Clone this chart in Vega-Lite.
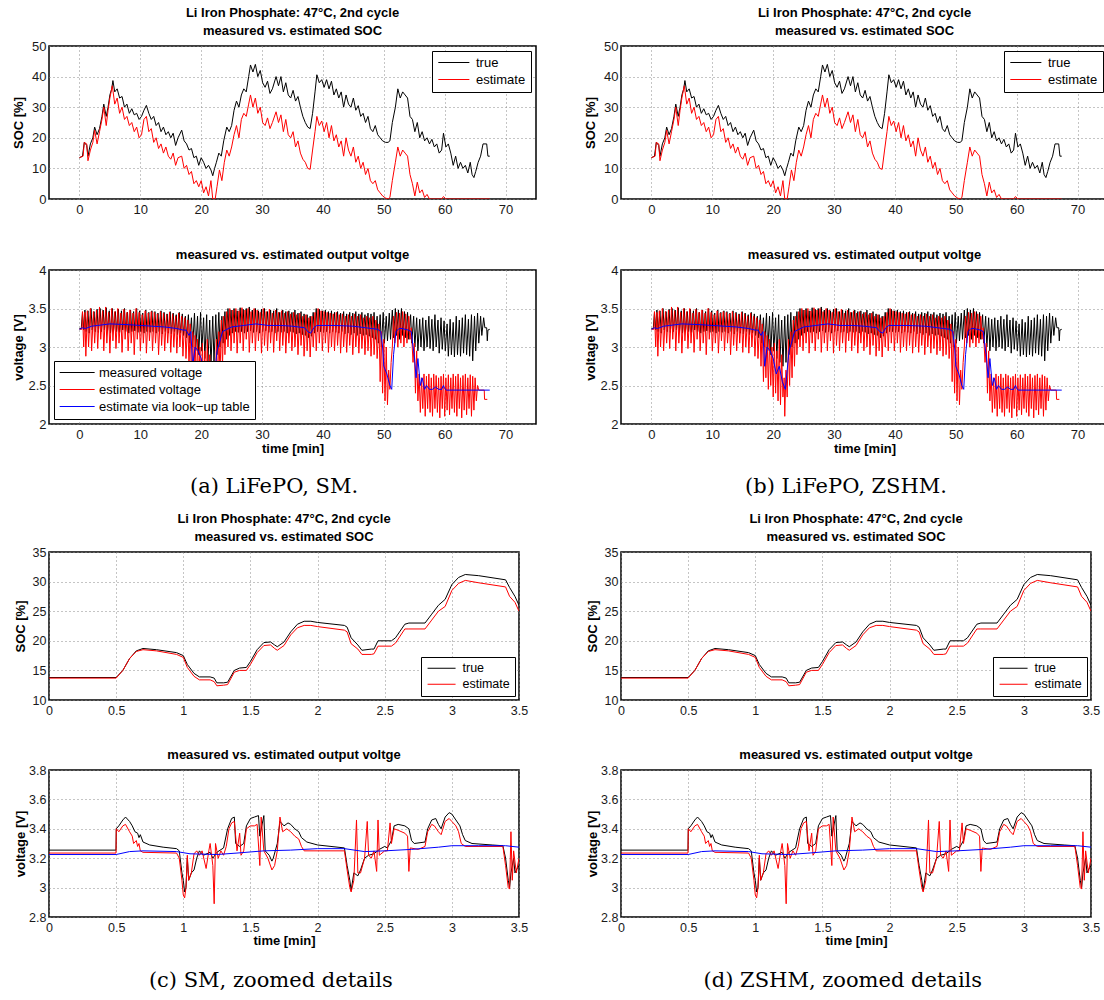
{
"$schema": "https://vega.github.io/schema/vega-lite/v6.json",
"background": "white",
"padding": {"left": 11, "top": 6, "right": 0, "bottom": 0},
"config": {
  "font": "Liberation Sans",
  "view": {"stroke": "black", "strokeWidth": 1.5},
  "axis": {"domain": false, "ticks": false, "grid": true, "gridColor": "#8a8a8a", "gridDash": [1, 3], "gridWidth": 1, "labelFont": "Liberation Sans", "labelColor": "#1a1a1a", "labelFontSize": 13, "titleFont": "Liberation Sans", "titleFontSize": 13, "titleFontWeight": "bold", "titleColor": "black", "labelFlush": false, "labelOverlap": false, "labelBound": false, "tickCount": 30},
  "axisX": {"labelPadding": 4, "titlePadding": 1, "labelOverlap": false, "tickCount": 30},
  "axisY": {"labelPadding": 3, "titlePadding": 5, "labelOverlap": false, "tickCount": 30},
  "title": {"font": "Liberation Sans", "fontSize": 13, "fontWeight": "bold", "color": "black", "anchor": "middle", "baseline": "bottom", "offset": 2, "lineHeight": 18}
},
"datasets": {
"socTrue": [{"t":0,"v":13.5},{"t":0.5,"v":14},{"t":0.8,"v":18.5},{"t":1.2,"v":17.5},{"t":1.4,"v":14},{"t":1.8,"v":18},{"t":2.2,"v":20},{"t":2.5,"v":23.5},{"t":2.9,"v":21},{"t":3.3,"v":23},{"t":3.7,"v":27},{"t":4.0,"v":31},{"t":4.4,"v":27},{"t":4.7,"v":30},{"t":5.0,"v":34},{"t":5.3,"v":36},{"t":5.5,"v":38.7},{"t":5.8,"v":35},{"t":6.2,"v":36},{"t":6.6,"v":33},{"t":7.0,"v":33.5},{"t":7.4,"v":30},{"t":7.8,"v":31},{"t":8.2,"v":28},{"t":8.6,"v":29.5},{"t":9.0,"v":27.5},{"t":9.4,"v":28},{"t":9.8,"v":26},{"t":10.2,"v":27},{"t":10.6,"v":29},{"t":11.0,"v":30.6},{"t":11.4,"v":28},{"t":11.8,"v":26},{"t":12.2,"v":27},{"t":12.6,"v":24},{"t":13.0,"v":25},{"t":13.4,"v":22},{"t":13.8,"v":23.5},{"t":14.2,"v":21},{"t":14.6,"v":22},{"t":15.0,"v":20},{"t":15.4,"v":21.5},{"t":15.8,"v":17.5},{"t":16.2,"v":20},{"t":16.8,"v":22.5},{"t":17.2,"v":19},{"t":17.6,"v":18},{"t":18.0,"v":16},{"t":18.4,"v":16.5},{"t":18.8,"v":13.5},{"t":19.2,"v":14},{"t":19.6,"v":11},{"t":20.0,"v":13.5},{"t":20.4,"v":12},{"t":20.8,"v":10},{"t":21.2,"v":11},{"t":21.6,"v":9.5},{"t":21.9,"v":7.6},{"t":22.2,"v":10},{"t":22.5,"v":12},{"t":22.9,"v":15},{"t":23.3,"v":14},{"t":23.7,"v":19},{"t":24.2,"v":23.5},{"t":24.6,"v":22},{"t":25.0,"v":24},{"t":25.4,"v":29},{"t":25.8,"v":32},{"t":26.2,"v":30},{"t":26.6,"v":34},{"t":27.0,"v":36},{"t":27.4,"v":35},{"t":27.8,"v":40},{"t":28.1,"v":43.8},{"t":28.5,"v":41.5},{"t":28.9,"v":44},{"t":29.3,"v":40},{"t":29.7,"v":42},{"t":30.1,"v":38},{"t":30.5,"v":36.5},{"t":30.9,"v":38.5},{"t":31.3,"v":34.5},{"t":31.7,"v":36},{"t":32.3,"v":40},{"t":32.7,"v":37},{"t":33.1,"v":40},{"t":33.5,"v":35},{"t":33.9,"v":38},{"t":34.3,"v":34},{"t":34.7,"v":33},{"t":35.1,"v":35.5},{"t":35.5,"v":32},{"t":35.9,"v":33.5},{"t":36.3,"v":30},{"t":36.7,"v":27},{"t":37.1,"v":25},{"t":37.5,"v":23.5},{"t":37.9,"v":23},{"t":38.3,"v":28},{"t":38.7,"v":35},{"t":39.0,"v":40.6},{"t":39.4,"v":38},{"t":39.8,"v":39},{"t":40.2,"v":36.5},{"t":40.6,"v":39},{"t":41.0,"v":36},{"t":41.4,"v":38.5},{"t":41.8,"v":34},{"t":42.2,"v":36},{"t":42.6,"v":33},{"t":43.0,"v":35},{"t":43.4,"v":30},{"t":43.8,"v":34},{"t":44.2,"v":31},{"t":44.6,"v":30},{"t":45.0,"v":33},{"t":45.4,"v":29},{"t":45.8,"v":30.5},{"t":46.2,"v":27},{"t":46.6,"v":28},{"t":47.0,"v":25},{"t":47.4,"v":27},{"t":47.8,"v":23},{"t":48.2,"v":22},{"t":48.6,"v":24},{"t":49.0,"v":21},{"t":49.4,"v":20},{"t":49.8,"v":19},{"t":50.3,"v":18.5},{"t":50.7,"v":18.5},{"t":51.0,"v":19},{"t":51.4,"v":25},{"t":51.9,"v":30},{"t":52.3,"v":36},{"t":52.7,"v":33},{"t":53.1,"v":35},{"t":53.5,"v":34},{"t":53.9,"v":33},{"t":54.3,"v":27},{"t":54.7,"v":26},{"t":55.1,"v":22},{"t":55.5,"v":25},{"t":55.9,"v":20},{"t":56.3,"v":22},{"t":56.7,"v":19},{"t":57.1,"v":20},{"t":57.5,"v":18},{"t":57.9,"v":19.5},{"t":58.3,"v":17},{"t":58.7,"v":18},{"t":59.1,"v":15},{"t":59.5,"v":16},{"t":59.8,"v":21.5},{"t":60.2,"v":17},{"t":60.6,"v":18},{"t":61.0,"v":15},{"t":61.4,"v":11},{"t":61.8,"v":14},{"t":62.2,"v":10},{"t":62.6,"v":12},{"t":63.0,"v":10},{"t":63.4,"v":11},{"t":63.8,"v":8.5},{"t":64.2,"v":12},{"t":64.5,"v":8},{"t":64.8,"v":7},{"t":65.1,"v":9},{"t":65.5,"v":12},{"t":65.9,"v":14},{"t":66.3,"v":18},{"t":66.9,"v":18},{"t":67.1,"v":14},{"t":67.4,"v":14}],
"socEst": [{"t":0,"v":13.5},{"t":0.6,"v":14},{"t":0.8,"v":18.5},{"t":1.2,"v":18},{"t":1.4,"v":12.5},{"t":1.8,"v":16},{"t":2.2,"v":18.5},{"t":2.5,"v":22.5},{"t":2.9,"v":18},{"t":3.3,"v":22},{"t":3.7,"v":26},{"t":4.0,"v":30},{"t":4.4,"v":24},{"t":4.7,"v":29},{"t":5.0,"v":33},{"t":5.4,"v":37},{"t":5.8,"v":31},{"t":6.2,"v":33},{"t":6.6,"v":28},{"t":7.0,"v":30},{"t":7.4,"v":26},{"t":7.8,"v":27},{"t":8.2,"v":24},{"t":8.6,"v":25},{"t":9.0,"v":22},{"t":9.4,"v":23.5},{"t":9.8,"v":20},{"t":10.2,"v":21},{"t":10.6,"v":26},{"t":11.0,"v":27},{"t":11.4,"v":22},{"t":11.8,"v":23},{"t":12.2,"v":18.5},{"t":12.6,"v":20},{"t":13.0,"v":16.5},{"t":13.4,"v":18},{"t":13.8,"v":15},{"t":14.2,"v":17},{"t":14.6,"v":14},{"t":15.0,"v":13},{"t":15.4,"v":15},{"t":15.8,"v":11},{"t":16.2,"v":13.5},{"t":16.8,"v":14},{"t":17.2,"v":10},{"t":17.6,"v":11},{"t":18.0,"v":8},{"t":18.4,"v":9},{"t":18.8,"v":5},{"t":19.2,"v":6},{"t":19.6,"v":4},{"t":20.0,"v":6},{"t":20.4,"v":2},{"t":20.8,"v":4},{"t":21.2,"v":1},{"t":21.6,"v":6},{"t":21.9,"v":0},{"t":22.3,"v":0},{"t":22.6,"v":4},{"t":23.0,"v":9.5},{"t":23.4,"v":6},{"t":23.8,"v":12},{"t":24.2,"v":16},{"t":24.6,"v":14},{"t":25.0,"v":17},{"t":25.4,"v":21},{"t":25.8,"v":24},{"t":26.2,"v":20},{"t":26.6,"v":26},{"t":27.0,"v":28},{"t":27.4,"v":27},{"t":27.8,"v":31},{"t":28.1,"v":34},{"t":28.5,"v":30},{"t":28.9,"v":33},{"t":29.3,"v":28},{"t":29.7,"v":30},{"t":30.1,"v":25},{"t":30.5,"v":24},{"t":30.9,"v":26.5},{"t":31.3,"v":23},{"t":31.7,"v":25},{"t":32.3,"v":28.5},{"t":32.7,"v":25},{"t":33.1,"v":27.5},{"t":33.5,"v":22},{"t":33.9,"v":26},{"t":34.3,"v":21},{"t":34.7,"v":20},{"t":35.1,"v":22},{"t":35.5,"v":17},{"t":35.9,"v":19},{"t":36.3,"v":15},{"t":36.7,"v":13},{"t":37.1,"v":12},{"t":37.5,"v":10},{"t":37.9,"v":9.7},{"t":38.3,"v":16},{"t":38.7,"v":22},{"t":39.0,"v":27},{"t":39.4,"v":24},{"t":39.8,"v":25.5},{"t":40.2,"v":22},{"t":40.6,"v":25},{"t":41.0,"v":20},{"t":41.4,"v":24},{"t":41.8,"v":19},{"t":42.2,"v":21},{"t":42.6,"v":17},{"t":43.0,"v":19},{"t":43.4,"v":14},{"t":43.8,"v":20},{"t":44.2,"v":16},{"t":44.6,"v":14},{"t":45.0,"v":17},{"t":45.4,"v":12},{"t":45.8,"v":14},{"t":46.2,"v":10},{"t":46.6,"v":12},{"t":47.0,"v":8},{"t":47.4,"v":10},{"t":47.8,"v":6},{"t":48.2,"v":5},{"t":48.6,"v":6},{"t":49.0,"v":3},{"t":49.4,"v":2},{"t":49.8,"v":1},{"t":50.3,"v":0.3},{"t":50.7,"v":0},{"t":51.0,"v":0.5},{"t":51.4,"v":6},{"t":51.9,"v":12},{"t":52.3,"v":17},{"t":52.7,"v":14},{"t":53.1,"v":16},{"t":53.5,"v":15},{"t":53.9,"v":14},{"t":54.3,"v":8},{"t":54.7,"v":5},{"t":55.1,"v":1},{"t":55.5,"v":5.5},{"t":55.9,"v":2},{"t":56.3,"v":3},{"t":56.7,"v":0.5},{"t":57.1,"v":1.5},{"t":57.5,"v":0},{"t":59.5,"v":0},{"t":59.8,"v":0.8},{"t":60.2,"v":0},{"t":67.4,"v":0}],
"vMeas": [{"t":0,"v":3.24},{"t":0.3,"v":3.24},{"t":0.5,"v":3.45},{"t":0.7,"v":3.22},{"t":0.9,"v":3.48},{"t":1.1,"v":3.2},{"t":1.4,"v":3.47},{"t":1.6,"v":3.18},{"t":1.9,"v":3.5},{"t":2.1,"v":3.22},{"t":2.4,"v":3.46},{"t":2.6,"v":3.2},{"t":2.9,"v":3.49},{"t":3.1,"v":3.19},{"t":3.4,"v":3.5},{"t":3.6,"v":3.2},{"t":3.9,"v":3.48},{"t":4.1,"v":3.22},{"t":4.4,"v":3.51},{"t":4.6,"v":3.2},{"t":4.9,"v":3.47},{"t":5.1,"v":3.18},{"t":5.4,"v":3.5},{"t":5.6,"v":3.21},{"t":5.9,"v":3.46},{"t":6.1,"v":3.2},{"t":6.4,"v":3.49},{"t":6.6,"v":3.19},{"t":6.9,"v":3.47},{"t":7.1,"v":3.22},{"t":7.4,"v":3.5},{"t":7.6,"v":3.2},{"t":7.9,"v":3.45},{"t":8.1,"v":3.18},{"t":8.4,"v":3.48},{"t":8.6,"v":3.2},{"t":8.9,"v":3.46},{"t":9.1,"v":3.21},{"t":9.4,"v":3.5},{"t":9.6,"v":3.19},{"t":9.9,"v":3.47},{"t":10.1,"v":3.2},{"t":10.4,"v":3.44},{"t":10.6,"v":3.18},{"t":10.9,"v":3.48},{"t":11.1,"v":3.2},{"t":11.4,"v":3.45},{"t":11.6,"v":3.19},{"t":11.9,"v":3.47},{"t":12.1,"v":3.2},{"t":12.4,"v":3.46},{"t":12.6,"v":3.18},{"t":12.9,"v":3.44},{"t":13.1,"v":3.2},{"t":13.4,"v":3.47},{"t":13.6,"v":3.17},{"t":13.9,"v":3.45},{"t":14.1,"v":3.2},{"t":14.4,"v":3.43},{"t":14.6,"v":3.18},{"t":14.9,"v":3.46},{"t":15.1,"v":3.17},{"t":15.4,"v":3.44},{"t":15.6,"v":3.2},{"t":15.9,"v":3.42},{"t":16.1,"v":3.16},{"t":16.4,"v":3.45},{"t":16.6,"v":3.18},{"t":16.9,"v":3.43},{"t":17.1,"v":3.15},{"t":17.4,"v":3.4},{"t":17.6,"v":3.12},{"t":17.9,"v":3.42},{"t":18.1,"v":3.05},{"t":18.4,"v":3.38},{"t":18.6,"v":3.0},{"t":18.9,"v":3.44},{"t":19.1,"v":2.95},{"t":19.4,"v":3.4},{"t":19.6,"v":2.9},{"t":19.9,"v":3.45},{"t":20.1,"v":2.95},{"t":20.4,"v":3.38},{"t":20.6,"v":2.85},{"t":20.9,"v":3.42},{"t":21.1,"v":2.8},{"t":21.4,"v":3.35},{"t":21.6,"v":2.75},{"t":21.9,"v":3.4},{"t":22.1,"v":2.8},{"t":22.4,"v":3.42},{"t":22.6,"v":2.9},{"t":22.9,"v":3.45},{"t":23.1,"v":3.0},{"t":23.4,"v":3.4},{"t":23.6,"v":3.05},{"t":23.9,"v":3.46},{"t":24.1,"v":3.1},{"t":24.4,"v":3.5},{"t":24.6,"v":3.15},{"t":24.9,"v":3.48},{"t":25.1,"v":3.18},{"t":25.4,"v":3.5},{"t":25.6,"v":3.2},{"t":25.9,"v":3.47},{"t":26.1,"v":3.19},{"t":26.4,"v":3.51},{"t":26.6,"v":3.2},{"t":26.9,"v":3.49},{"t":27.1,"v":3.18},{"t":27.4,"v":3.5},{"t":27.6,"v":3.2},{"t":27.9,"v":3.52},{"t":28.1,"v":3.21},{"t":28.4,"v":3.48},{"t":28.6,"v":3.19},{"t":28.9,"v":3.5},{"t":29.1,"v":3.2},{"t":29.4,"v":3.47},{"t":29.6,"v":3.18},{"t":29.9,"v":3.49},{"t":30.1,"v":3.2},{"t":30.4,"v":3.5},{"t":30.6,"v":3.21},{"t":30.9,"v":3.46},{"t":31.1,"v":3.19},{"t":31.4,"v":3.48},{"t":31.6,"v":3.2},{"t":31.9,"v":3.47},{"t":32.1,"v":3.18},{"t":32.4,"v":3.5},{"t":32.6,"v":3.2},{"t":32.9,"v":3.45},{"t":33.1,"v":3.19},{"t":33.4,"v":3.48},{"t":33.6,"v":3.2},{"t":33.9,"v":3.46},{"t":34.1,"v":3.18},{"t":34.4,"v":3.47},{"t":34.6,"v":3.2},{"t":34.9,"v":3.45},{"t":35.1,"v":3.19},{"t":35.4,"v":3.48},{"t":35.6,"v":3.17},{"t":35.9,"v":3.44},{"t":36.1,"v":3.18},{"t":36.4,"v":3.46},{"t":36.6,"v":3.16},{"t":36.9,"v":3.43},{"t":37.1,"v":3.15},{"t":37.4,"v":3.42},{"t":37.6,"v":3.12},{"t":37.9,"v":3.4},{"t":38.1,"v":3.14},{"t":38.4,"v":3.45},{"t":38.6,"v":3.18},{"t":38.9,"v":3.5},{"t":39.1,"v":3.2},{"t":39.4,"v":3.49},{"t":39.6,"v":3.2},{"t":39.9,"v":3.47},{"t":40.1,"v":3.19},{"t":40.4,"v":3.48},{"t":40.6,"v":3.2},{"t":40.9,"v":3.46},{"t":41.1,"v":3.18},{"t":41.4,"v":3.47},{"t":41.6,"v":3.2},{"t":41.9,"v":3.45},{"t":42.1,"v":3.19},{"t":42.4,"v":3.46},{"t":42.6,"v":3.18},{"t":42.9,"v":3.44},{"t":43.1,"v":3.2},{"t":43.4,"v":3.46},{"t":43.6,"v":3.17},{"t":43.9,"v":3.43},{"t":44.1,"v":3.18},{"t":44.4,"v":3.45},{"t":44.6,"v":3.16},{"t":44.9,"v":3.44},{"t":45.1,"v":3.18},{"t":45.4,"v":3.46},{"t":45.6,"v":3.15},{"t":45.9,"v":3.43},{"t":46.1,"v":3.17},{"t":46.4,"v":3.45},{"t":46.6,"v":3.15},{"t":46.9,"v":3.42},{"t":47.1,"v":3.16},{"t":47.4,"v":3.44},{"t":47.6,"v":3.14},{"t":47.9,"v":3.43},{"t":48.1,"v":3.12},{"t":48.4,"v":3.45},{"t":48.6,"v":3.1},{"t":48.9,"v":3.4},{"t":49.1,"v":3.05},{"t":49.4,"v":3.42},{"t":49.6,"v":3.0},{"t":49.9,"v":3.45},{"t":50.1,"v":3.05},{"t":50.4,"v":3.4},{"t":50.6,"v":3.08},{"t":50.9,"v":3.44},{"t":51.1,"v":3.1},{"t":51.4,"v":3.48},{"t":51.6,"v":3.12},{"t":51.9,"v":3.5},{"t":52.1,"v":3.15},{"t":52.4,"v":3.48},{"t":52.6,"v":3.1},{"t":52.9,"v":3.5},{"t":53.1,"v":3.15},{"t":53.4,"v":3.46},{"t":53.6,"v":3.12},{"t":53.9,"v":3.45},{"t":54.1,"v":3.1},{"t":54.4,"v":3.42},{"t":54.6,"v":3.05},{"t":54.9,"v":3.4},{"t":55.1,"v":3.0},{"t":55.4,"v":3.38},{"t":55.6,"v":2.95},{"t":55.9,"v":3.36},{"t":56.1,"v":3.0},{"t":56.4,"v":3.38},{"t":56.6,"v":2.95},{"t":56.9,"v":3.35},{"t":57.1,"v":3.0},{"t":57.4,"v":3.4},{"t":57.6,"v":2.98},{"t":57.9,"v":3.36},{"t":58.1,"v":2.95},{"t":58.4,"v":3.42},{"t":58.6,"v":3.0},{"t":58.9,"v":3.35},{"t":59.1,"v":2.92},{"t":59.4,"v":3.38},{"t":59.6,"v":2.97},{"t":59.9,"v":3.34},{"t":60.1,"v":2.95},{"t":60.4,"v":3.3},{"t":60.6,"v":2.88},{"t":60.9,"v":3.36},{"t":61.1,"v":2.9},{"t":61.4,"v":3.32},{"t":61.6,"v":2.87},{"t":61.9,"v":3.4},{"t":62.1,"v":2.9},{"t":62.4,"v":3.35},{"t":62.6,"v":2.88},{"t":62.9,"v":3.38},{"t":63.1,"v":2.92},{"t":63.4,"v":3.42},{"t":63.6,"v":2.9},{"t":63.9,"v":3.36},{"t":64.1,"v":2.88},{"t":64.4,"v":3.42},{"t":64.6,"v":2.82},{"t":64.9,"v":3.4},{"t":65.1,"v":2.95},{"t":65.4,"v":3.44},{"t":65.6,"v":3.05},{"t":65.9,"v":3.4},{"t":66.1,"v":3.15},{"t":66.4,"v":3.38},{"t":66.6,"v":3.25},{"t":66.9,"v":3.25},{"t":67.0,"v":3.08},{"t":67.1,"v":3.22},{"t":67.4,"v":3.23}],
"vEst": [{"t":0,"v":3.23},{"t":0.4,"v":3.23},{"t":0.5,"v":3.46},{"t":0.7,"v":3.0},{"t":0.9,"v":3.45},{"t":1.05,"v":2.88},{"t":1.3,"v":3.47},{"t":1.5,"v":3.0},{"t":1.8,"v":3.5},{"t":2.0,"v":2.95},{"t":2.3,"v":3.46},{"t":2.5,"v":3.05},{"t":2.8,"v":3.48},{"t":3.0,"v":2.98},{"t":3.3,"v":3.52},{"t":3.5,"v":3.1},{"t":3.8,"v":3.47},{"t":4.0,"v":2.95},{"t":4.3,"v":3.52},{"t":4.5,"v":3.05},{"t":4.8,"v":3.45},{"t":5.0,"v":2.92},{"t":5.3,"v":3.5},{"t":5.5,"v":3.08},{"t":5.8,"v":3.46},{"t":6.0,"v":2.98},{"t":6.3,"v":3.5},{"t":6.5,"v":3.05},{"t":6.8,"v":3.44},{"t":7.0,"v":2.93},{"t":7.3,"v":3.49},{"t":7.5,"v":3.1},{"t":7.8,"v":3.45},{"t":8.0,"v":2.95},{"t":8.3,"v":3.48},{"t":8.5,"v":3.05},{"t":8.8,"v":3.44},{"t":9.0,"v":2.9},{"t":9.3,"v":3.5},{"t":9.5,"v":3.1},{"t":9.8,"v":3.45},{"t":10.0,"v":2.95},{"t":10.3,"v":3.42},{"t":10.5,"v":3.05},{"t":10.8,"v":3.47},{"t":11.0,"v":2.92},{"t":11.3,"v":3.44},{"t":11.5,"v":3.08},{"t":11.8,"v":3.46},{"t":12.0,"v":2.95},{"t":12.3,"v":3.45},{"t":12.5,"v":3.05},{"t":12.8,"v":3.43},{"t":13.0,"v":2.9},{"t":13.3,"v":3.46},{"t":13.5,"v":3.02},{"t":13.8,"v":3.44},{"t":14.0,"v":2.95},{"t":14.3,"v":3.42},{"t":14.5,"v":3.05},{"t":14.8,"v":3.45},{"t":15.0,"v":2.93},{"t":15.3,"v":3.43},{"t":15.5,"v":3.0},{"t":15.8,"v":3.4},{"t":16.0,"v":2.92},{"t":16.3,"v":3.44},{"t":16.5,"v":3.0},{"t":16.8,"v":3.4},{"t":17.0,"v":2.88},{"t":17.3,"v":3.38},{"t":17.5,"v":2.85},{"t":17.8,"v":3.35},{"t":18.0,"v":2.75},{"t":18.2,"v":3.3},{"t":18.4,"v":2.55},{"t":18.6,"v":3.2},{"t":18.8,"v":2.6},{"t":19.0,"v":3.15},{"t":19.2,"v":2.45},{"t":19.4,"v":3.1},{"t":19.6,"v":2.5},{"t":19.8,"v":3.0},{"t":20.0,"v":2.35},{"t":20.2,"v":3.05},{"t":20.4,"v":2.4},{"t":20.6,"v":2.95},{"t":20.8,"v":2.3},{"t":21.0,"v":3.1},{"t":21.2,"v":2.25},{"t":21.4,"v":2.9},{"t":21.6,"v":2.35},{"t":21.8,"v":2.6},{"t":21.9,"v":2.1},{"t":22.1,"v":2.7},{"t":22.3,"v":2.35},{"t":22.5,"v":3.1},{"t":22.7,"v":2.5},{"t":22.9,"v":3.2},{"t":23.1,"v":2.6},{"t":23.3,"v":3.35},{"t":23.5,"v":2.75},{"t":23.7,"v":3.4},{"t":23.9,"v":2.9},{"t":24.2,"v":3.46},{"t":24.4,"v":3.0},{"t":24.7,"v":3.5},{"t":24.9,"v":2.95},{"t":25.2,"v":3.48},{"t":25.4,"v":3.05},{"t":25.7,"v":3.5},{"t":25.9,"v":2.92},{"t":26.2,"v":3.47},{"t":26.4,"v":3.05},{"t":26.7,"v":3.51},{"t":26.9,"v":2.95},{"t":27.2,"v":3.48},{"t":27.4,"v":3.1},{"t":27.7,"v":3.5},{"t":27.9,"v":2.93},{"t":28.2,"v":3.46},{"t":28.4,"v":3.05},{"t":28.7,"v":3.5},{"t":28.9,"v":2.95},{"t":29.2,"v":3.48},{"t":29.4,"v":3.08},{"t":29.7,"v":3.45},{"t":29.9,"v":2.92},{"t":30.2,"v":3.5},{"t":30.4,"v":3.02},{"t":30.7,"v":3.46},{"t":30.9,"v":2.95},{"t":31.2,"v":3.49},{"t":31.4,"v":3.05},{"t":31.7,"v":3.44},{"t":31.9,"v":2.93},{"t":32.2,"v":3.48},{"t":32.4,"v":3.08},{"t":32.7,"v":3.45},{"t":32.9,"v":2.95},{"t":33.2,"v":3.47},{"t":33.4,"v":3.02},{"t":33.7,"v":3.44},{"t":33.9,"v":2.92},{"t":34.2,"v":3.46},{"t":34.4,"v":3.05},{"t":34.7,"v":3.43},{"t":34.9,"v":2.95},{"t":35.2,"v":3.45},{"t":35.4,"v":3.0},{"t":35.7,"v":3.42},{"t":35.9,"v":2.9},{"t":36.2,"v":3.44},{"t":36.4,"v":3.02},{"t":36.7,"v":3.4},{"t":36.9,"v":2.88},{"t":37.2,"v":3.42},{"t":37.4,"v":2.95},{"t":37.7,"v":3.38},{"t":37.9,"v":2.87},{"t":38.2,"v":3.4},{"t":38.4,"v":3.0},{"t":38.7,"v":3.45},{"t":38.9,"v":2.95},{"t":39.2,"v":3.5},{"t":39.4,"v":3.05},{"t":39.7,"v":3.47},{"t":39.9,"v":2.95},{"t":40.2,"v":3.46},{"t":40.4,"v":3.05},{"t":40.7,"v":3.45},{"t":40.9,"v":2.93},{"t":41.2,"v":3.44},{"t":41.4,"v":3.0},{"t":41.7,"v":3.43},{"t":41.9,"v":2.95},{"t":42.2,"v":3.45},{"t":42.4,"v":3.02},{"t":42.7,"v":3.42},{"t":42.9,"v":2.92},{"t":43.2,"v":3.43},{"t":43.4,"v":3.0},{"t":43.7,"v":3.4},{"t":43.9,"v":2.93},{"t":44.2,"v":3.42},{"t":44.4,"v":3.02},{"t":44.7,"v":3.4},{"t":44.9,"v":2.9},{"t":45.2,"v":3.43},{"t":45.4,"v":3.0},{"t":45.7,"v":3.4},{"t":45.9,"v":2.92},{"t":46.2,"v":3.42},{"t":46.4,"v":2.98},{"t":46.7,"v":3.38},{"t":46.9,"v":2.9},{"t":47.2,"v":3.4},{"t":47.4,"v":2.95},{"t":47.7,"v":3.38},{"t":47.9,"v":2.88},{"t":48.2,"v":3.4},{"t":48.4,"v":2.9},{"t":48.7,"v":3.35},{"t":48.9,"v":2.85},{"t":49.2,"v":3.3},{"t":49.4,"v":2.55},{"t":49.6,"v":3.2},{"t":49.8,"v":2.4},{"t":50.0,"v":3.1},{"t":50.2,"v":2.3},{"t":50.4,"v":3.0},{"t":50.6,"v":2.25},{"t":50.8,"v":2.7},{"t":51.0,"v":2.45},{"t":51.2,"v":2.8},{"t":51.4,"v":3.0},{"t":51.6,"v":3.4},{"t":51.8,"v":3.05},{"t":52.1,"v":3.45},{"t":52.3,"v":3.0},{"t":52.6,"v":3.44},{"t":52.8,"v":3.05},{"t":53.1,"v":3.46},{"t":53.3,"v":3.0},{"t":53.6,"v":3.43},{"t":53.8,"v":3.05},{"t":54.1,"v":3.4},{"t":54.3,"v":3.1},{"t":54.5,"v":3.25},{"t":54.8,"v":2.8},{"t":55.0,"v":3.05},{"t":55.2,"v":2.4},{"t":55.4,"v":2.95},{"t":55.6,"v":2.3},{"t":55.8,"v":2.65},{"t":56.0,"v":2.15},{"t":56.2,"v":2.6},{"t":56.4,"v":2.2},{"t":56.6,"v":2.65},{"t":56.8,"v":2.1},{"t":57.0,"v":2.62},{"t":57.2,"v":2.2},{"t":57.4,"v":2.65},{"t":57.6,"v":2.15},{"t":57.8,"v":2.6},{"t":58.0,"v":2.1},{"t":58.2,"v":2.65},{"t":58.4,"v":2.2},{"t":58.6,"v":2.63},{"t":58.8,"v":2.15},{"t":59.0,"v":2.6},{"t":59.2,"v":2.08},{"t":59.4,"v":2.62},{"t":59.6,"v":2.2},{"t":59.8,"v":2.65},{"t":60.0,"v":2.1},{"t":60.2,"v":2.6},{"t":60.4,"v":2.18},{"t":60.6,"v":2.64},{"t":60.8,"v":2.12},{"t":61.0,"v":2.6},{"t":61.2,"v":2.2},{"t":61.4,"v":2.65},{"t":61.6,"v":2.15},{"t":61.8,"v":2.62},{"t":62.0,"v":2.1},{"t":62.2,"v":2.65},{"t":62.4,"v":2.2},{"t":62.6,"v":2.6},{"t":62.8,"v":2.08},{"t":63.0,"v":2.63},{"t":63.2,"v":2.18},{"t":63.4,"v":2.65},{"t":63.6,"v":2.12},{"t":63.8,"v":2.6},{"t":64.0,"v":2.2},{"t":64.2,"v":2.64},{"t":64.4,"v":2.1},{"t":64.6,"v":2.62},{"t":64.8,"v":2.18},{"t":65.0,"v":2.6},{"t":65.2,"v":2.3},{"t":65.4,"v":2.5},{"t":65.6,"v":2.44},{"t":66.5,"v":2.44},{"t":66.55,"v":2.32},{"t":67.0,"v":2.32}],
"vLut": [{"t":0,"v":3.23},{"t":0.5,"v":3.25},{"t":1,"v":3.24},{"t":2,"v":3.27},{"t":3,"v":3.28},{"t":5,"v":3.3},{"t":8,"v":3.29},{"t":10,"v":3.28},{"t":12,"v":3.27},{"t":14,"v":3.26},{"t":16,"v":3.24},{"t":17,"v":3.22},{"t":17.5,"v":3.22},{"t":18,"v":3.15},{"t":18.3,"v":3.2},{"t":18.6,"v":2.75},{"t":19,"v":3.0},{"t":19.5,"v":2.95},{"t":20,"v":2.85},{"t":20.5,"v":2.65},{"t":21,"v":2.75},{"t":21.5,"v":2.55},{"t":22,"v":2.45},{"t":22.3,"v":2.7},{"t":22.6,"v":2.95},{"t":23,"v":3.05},{"t":23.5,"v":3.2},{"t":24,"v":3.22},{"t":25,"v":3.26},{"t":27,"v":3.28},{"t":29,"v":3.3},{"t":31,"v":3.28},{"t":33,"v":3.28},{"t":35,"v":3.27},{"t":37,"v":3.25},{"t":37.5,"v":3.2},{"t":38,"v":3.18},{"t":38.5,"v":3.25},{"t":39,"v":3.28},{"t":42,"v":3.28},{"t":45,"v":3.27},{"t":47,"v":3.25},{"t":48,"v":3.24},{"t":49,"v":3.23},{"t":49.5,"v":3.2},{"t":49.8,"v":3.0},{"t":50,"v":2.75},{"t":50.5,"v":2.65},{"t":51,"v":2.5},{"t":51.3,"v":2.45},{"t":51.6,"v":2.9},{"t":52,"v":3.2},{"t":52.5,"v":3.24},{"t":53,"v":3.24},{"t":54,"v":3.22},{"t":54.5,"v":3.2},{"t":54.8,"v":3.0},{"t":55,"v":2.9},{"t":55.3,"v":2.6},{"t":55.6,"v":2.85},{"t":56,"v":2.5},{"t":56.3,"v":2.6},{"t":56.7,"v":2.45},{"t":57,"v":2.5},{"t":57.5,"v":2.45},{"t":58,"v":2.45},{"t":58.5,"v":2.48},{"t":59,"v":2.45},{"t":59.5,"v":2.45},{"t":59.8,"v":2.5},{"t":60,"v":2.46},{"t":60.3,"v":2.44},{"t":67.4,"v":2.44}],
"zSocTrue": [{"t":0,"v":13.8},{"t":0.5,"v":13.8},{"t":0.55,"v":15},{"t":0.6,"v":17},{"t":0.65,"v":18.3},{"t":0.7,"v":18.7},{"t":0.8,"v":18.5},{"t":0.95,"v":18},{"t":1.0,"v":17.5},{"t":1.03,"v":16},{"t":1.08,"v":14.5},{"t":1.12,"v":13.9},{"t":1.2,"v":13.9},{"t":1.23,"v":13.7},{"t":1.25,"v":12.9},{"t":1.3,"v":12.9},{"t":1.33,"v":13},{"t":1.38,"v":15},{"t":1.42,"v":15.4},{"t":1.47,"v":15.5},{"t":1.5,"v":16.5},{"t":1.55,"v":18.5},{"t":1.6,"v":19.7},{"t":1.65,"v":19.8},{"t":1.68,"v":19.3},{"t":1.7,"v":19},{"t":1.75,"v":19.8},{"t":1.8,"v":21.5},{"t":1.85,"v":22.8},{"t":1.9,"v":23.3},{"t":1.95,"v":23.3},{"t":2.0,"v":23.1},{"t":2.2,"v":22.6},{"t":2.22,"v":22.3},{"t":2.25,"v":20.5},{"t":2.3,"v":19.3},{"t":2.33,"v":18.4},{"t":2.4,"v":18.6},{"t":2.42,"v":18.6},{"t":2.45,"v":20},{"t":2.55,"v":20},{"t":2.58,"v":20.5},{"t":2.65,"v":22.8},{"t":2.68,"v":23},{"t":2.8,"v":23},{"t":2.85,"v":24.5},{"t":2.9,"v":26},{"t":2.95,"v":27},{"t":3.0,"v":29.5},{"t":3.05,"v":30.7},{"t":3.1,"v":31.2},{"t":3.2,"v":31},{"t":3.4,"v":30.3},{"t":3.43,"v":29},{"t":3.47,"v":27.5},{"t":3.5,"v":26}],
"zSocEst": [{"t":0,"v":13.7},{"t":0.5,"v":13.7},{"t":0.55,"v":15},{"t":0.6,"v":17},{"t":0.65,"v":18.2},{"t":0.7,"v":18.5},{"t":0.8,"v":18.3},{"t":0.95,"v":17.7},{"t":1.0,"v":17.2},{"t":1.03,"v":15.5},{"t":1.08,"v":14},{"t":1.12,"v":13.4},{"t":1.2,"v":13.4},{"t":1.23,"v":13.1},{"t":1.25,"v":12.4},{"t":1.3,"v":12.5},{"t":1.33,"v":12.6},{"t":1.38,"v":14.7},{"t":1.42,"v":15},{"t":1.47,"v":15},{"t":1.5,"v":16},{"t":1.55,"v":18},{"t":1.6,"v":19.2},{"t":1.65,"v":19.3},{"t":1.68,"v":18.7},{"t":1.7,"v":18.4},{"t":1.75,"v":19.2},{"t":1.8,"v":21},{"t":1.85,"v":22.2},{"t":1.9,"v":22.6},{"t":1.95,"v":22.6},{"t":2.0,"v":22.4},{"t":2.2,"v":21.8},{"t":2.22,"v":21.5},{"t":2.25,"v":19.5},{"t":2.3,"v":18.6},{"t":2.33,"v":17.7},{"t":2.4,"v":17.7},{"t":2.42,"v":17.8},{"t":2.45,"v":19.1},{"t":2.55,"v":19.1},{"t":2.58,"v":19.6},{"t":2.65,"v":22},{"t":2.68,"v":22},{"t":2.8,"v":22},{"t":2.85,"v":23.5},{"t":2.9,"v":25},{"t":2.95,"v":25.8},{"t":3.0,"v":28.5},{"t":3.05,"v":29.7},{"t":3.1,"v":30.2},{"t":3.2,"v":29.8},{"t":3.4,"v":29.1},{"t":3.43,"v":27.5},{"t":3.47,"v":26.5},{"t":3.5,"v":25}],
"zVMeas": [{"t":0,"v":3.255},{"t":0.499,"v":3.255},{"t":0.501,"v":3.40},{"t":0.52,"v":3.42},{"t":0.55,"v":3.46},{"t":0.57,"v":3.48},{"t":0.6,"v":3.45},{"t":0.62,"v":3.42},{"t":0.64,"v":3.38},{"t":0.66,"v":3.37},{"t":0.67,"v":3.34},{"t":0.68,"v":3.36},{"t":0.7,"v":3.31},{"t":0.75,"v":3.29},{"t":0.85,"v":3.275},{"t":0.95,"v":3.265},{"t":0.97,"v":3.25},{"t":0.99,"v":3.1},{"t":1.0,"v":3.05},{"t":1.01,"v":2.97},{"t":1.02,"v":3.0},{"t":1.03,"v":3.2},{"t":1.04,"v":3.05},{"t":1.06,"v":3.1},{"t":1.08,"v":3.12},{"t":1.1,"v":3.2},{"t":1.12,"v":3.25},{"t":1.15,"v":3.22},{"t":1.2,"v":3.24},{"t":1.22,"v":3.2},{"t":1.25,"v":3.24},{"t":1.3,"v":3.27},{"t":1.33,"v":3.4},{"t":1.36,"v":3.47},{"t":1.38,"v":3.48},{"t":1.39,"v":3.3},{"t":1.42,"v":3.28},{"t":1.45,"v":3.3},{"t":1.47,"v":3.42},{"t":1.5,"v":3.47},{"t":1.53,"v":3.48},{"t":1.56,"v":3.49},{"t":1.57,"v":3.35},{"t":1.6,"v":3.49},{"t":1.61,"v":3.25},{"t":1.64,"v":3.22},{"t":1.66,"v":3.18},{"t":1.67,"v":3.2},{"t":1.7,"v":3.3},{"t":1.72,"v":3.45},{"t":1.75,"v":3.42},{"t":1.78,"v":3.44},{"t":1.8,"v":3.43},{"t":1.83,"v":3.4},{"t":1.86,"v":3.38},{"t":1.88,"v":3.34},{"t":1.92,"v":3.31},{"t":2.0,"v":3.29},{"t":2.1,"v":3.28},{"t":2.2,"v":3.27},{"t":2.22,"v":3.15},{"t":2.24,"v":3.05},{"t":2.25,"v":2.98},{"t":2.27,"v":3.1},{"t":2.3,"v":3.08},{"t":2.32,"v":3.12},{"t":2.35,"v":3.2},{"t":2.38,"v":3.22},{"t":2.42,"v":3.23},{"t":2.46,"v":3.26},{"t":2.5,"v":3.28},{"t":2.52,"v":3.27},{"t":2.55,"v":3.32},{"t":2.57,"v":3.42},{"t":2.6,"v":3.43},{"t":2.65,"v":3.42},{"t":2.68,"v":3.4},{"t":2.7,"v":3.32},{"t":2.72,"v":3.3},{"t":2.8,"v":3.31},{"t":2.82,"v":3.4},{"t":2.85,"v":3.46},{"t":2.88,"v":3.47},{"t":2.9,"v":3.43},{"t":2.92,"v":3.4},{"t":2.95,"v":3.48},{"t":2.98,"v":3.51},{"t":3.0,"v":3.5},{"t":3.03,"v":3.46},{"t":3.06,"v":3.42},{"t":3.08,"v":3.36},{"t":3.1,"v":3.32},{"t":3.15,"v":3.3},{"t":3.3,"v":3.29},{"t":3.38,"v":3.285},{"t":3.4,"v":3.2},{"t":3.42,"v":3.05},{"t":3.43,"v":3.0},{"t":3.44,"v":3.1},{"t":3.46,"v":3.2},{"t":3.47,"v":3.1},{"t":3.48,"v":3.12},{"t":3.5,"v":3.15}],
"zVEst": [{"t":0,"v":3.235},{"t":0.499,"v":3.235},{"t":0.501,"v":3.40},{"t":0.52,"v":3.38},{"t":0.55,"v":3.42},{"t":0.57,"v":3.43},{"t":0.6,"v":3.38},{"t":0.62,"v":3.35},{"t":0.63,"v":3.3},{"t":0.65,"v":3.32},{"t":0.66,"v":3.28},{"t":0.67,"v":3.3},{"t":0.68,"v":3.25},{"t":0.7,"v":3.24},{"t":0.95,"v":3.235},{"t":0.97,"v":3.2},{"t":0.99,"v":3.05},{"t":1.0,"v":2.95},{"t":1.01,"v":2.93},{"t":1.02,"v":3.0},{"t":1.03,"v":3.22},{"t":1.04,"v":3.05},{"t":1.06,"v":3.1},{"t":1.08,"v":3.23},{"t":1.1,"v":3.25},{"t":1.12,"v":3.22},{"t":1.14,"v":3.25},{"t":1.17,"v":3.13},{"t":1.19,"v":3.25},{"t":1.2,"v":3.3},{"t":1.22,"v":3.15},{"t":1.23,"v":2.89},{"t":1.24,"v":3.3},{"t":1.26,"v":3.2},{"t":1.28,"v":3.25},{"t":1.3,"v":3.22},{"t":1.32,"v":3.28},{"t":1.34,"v":3.4},{"t":1.36,"v":3.44},{"t":1.38,"v":3.45},{"t":1.4,"v":3.25},{"t":1.42,"v":3.37},{"t":1.43,"v":3.22},{"t":1.45,"v":3.25},{"t":1.47,"v":3.4},{"t":1.5,"v":3.42},{"t":1.53,"v":3.42},{"t":1.55,"v":3.43},{"t":1.57,"v":3.15},{"t":1.58,"v":3.48},{"t":1.6,"v":3.25},{"t":1.63,"v":3.2},{"t":1.66,"v":3.12},{"t":1.68,"v":3.15},{"t":1.7,"v":3.25},{"t":1.72,"v":3.48},{"t":1.74,"v":3.38},{"t":1.77,"v":3.4},{"t":1.8,"v":3.38},{"t":1.83,"v":3.35},{"t":1.86,"v":3.33},{"t":1.88,"v":3.28},{"t":1.9,"v":3.25},{"t":2.2,"v":3.25},{"t":2.22,"v":3.12},{"t":2.24,"v":3.0},{"t":2.25,"v":2.97},{"t":2.27,"v":3.05},{"t":2.29,"v":3.46},{"t":2.3,"v":3.1},{"t":2.32,"v":3.1},{"t":2.35,"v":3.2},{"t":2.37,"v":3.45},{"t":2.38,"v":3.22},{"t":2.4,"v":3.2},{"t":2.42,"v":3.25},{"t":2.44,"v":3.11},{"t":2.45,"v":3.46},{"t":2.46,"v":3.22},{"t":2.5,"v":3.25},{"t":2.52,"v":3.25},{"t":2.54,"v":3.44},{"t":2.55,"v":3.3},{"t":2.57,"v":3.4},{"t":2.6,"v":3.39},{"t":2.65,"v":3.37},{"t":2.67,"v":3.35},{"t":2.68,"v":3.11},{"t":2.69,"v":3.27},{"t":2.75,"v":3.26},{"t":2.8,"v":3.28},{"t":2.82,"v":3.38},{"t":2.85,"v":3.43},{"t":2.87,"v":3.42},{"t":2.9,"v":3.38},{"t":2.92,"v":3.36},{"t":2.95,"v":3.45},{"t":2.98,"v":3.47},{"t":3.0,"v":3.45},{"t":3.03,"v":3.42},{"t":3.05,"v":3.38},{"t":3.07,"v":3.3},{"t":3.1,"v":3.28},{"t":3.38,"v":3.28},{"t":3.4,"v":3.15},{"t":3.42,"v":3.0},{"t":3.43,"v":2.99},{"t":3.44,"v":3.38},{"t":3.45,"v":3.05},{"t":3.46,"v":3.25},{"t":3.48,"v":3.1},{"t":3.5,"v":3.2}],
"zVLut": [{"t":0,"v":3.225},{"t":0.5,"v":3.225},{"t":0.6,"v":3.245},{"t":0.7,"v":3.25},{"t":0.95,"v":3.245},{"t":1.05,"v":3.23},{"t":1.25,"v":3.225},{"t":1.4,"v":3.235},{"t":1.6,"v":3.25},{"t":1.8,"v":3.255},{"t":2.0,"v":3.265},{"t":2.2,"v":3.265},{"t":2.35,"v":3.245},{"t":2.5,"v":3.25},{"t":2.7,"v":3.26},{"t":2.9,"v":3.275},{"t":3.0,"v":3.285},{"t":3.2,"v":3.285},{"t":3.4,"v":3.285},{"t":3.5,"v":3.275}]
},
"vconcat": [
 {"hconcat": [
  {"vconcat": [
    {"width": 487, "height": 153,
     "title": {"text": ["Li Iron Phosphate: 47°C, 2nd cycle", "measured vs. estimated SOC"]},
     "layer": [
      {"data": {"name": "socTrue"}, "mark": {"type": "line", "clip": true, "strokeWidth": 1},
       "encoding": {
        "x": {"field": "t", "type": "quantitative", "scale": {"domain": [-5, 75], "nice": false, "zero": false}, "axis": {"values": [0,10,20,30,40,50,60,70], "title": null, "labelExpr": "'' + datum.value", "labelOverlap": false, "tickCount": 30}},
        "y": {"field": "v", "type": "quantitative", "scale": {"domain": [0, 50], "nice": false}, "axis": {"values": [0,10,20,30,40,50], "title": "SOC [%]", "labelExpr": "'' + datum.value", "labelOverlap": false, "tickCount": 30, "minExtent": 19, "maxExtent": 19}},
        "color": {"datum": "true", "type": "nominal", "scale": {"domain": ["true", "estimate"], "range": ["#000000", "#ff0000"]},
          "legend": {"title": null, "orient": "top-right", "offset": 5, "symbolType": "M-1,0H5", "symbolSize": 107, "symbolStrokeWidth": 1, "labelFontSize": 13, "labelFont": "Liberation Sans", "labelColor": "black", "labelOffset": 26, "padding": 5, "rowPadding": 3, "strokeColor": "black", "fillColor": "white"}}}},
      {"data": {"name": "socEst"}, "mark": {"type": "line", "clip": true, "strokeWidth": 1},
       "encoding": {"x": {"field": "t", "type": "quantitative"}, "y": {"field": "v", "type": "quantitative"}, "color": {"datum": "estimate", "type": "nominal"}}}
     ]},
    {"width": 487, "height": 154,
     "title": {"text": "measured vs. estimated output voltge"},
     "layer": [
      {"data": {"name": "vMeas"}, "mark": {"type": "line", "clip": true, "strokeWidth": 1},
       "encoding": {
        "x": {"field": "t", "type": "quantitative", "scale": {"domain": [-5, 75], "nice": false, "zero": false}, "axis": {"values": [0,10,20,30,40,50,60,70], "title": "time [min]", "labelExpr": "'' + datum.value", "labelOverlap": false, "tickCount": 30}},
        "y": {"field": "v", "type": "quantitative", "scale": {"domain": [2, 4], "nice": false, "zero": false}, "axis": {"values": [2,2.5,3,3.5,4], "title": "voltage [V]", "labelExpr": "'' + datum.value", "labelOverlap": false, "tickCount": 30, "minExtent": 19, "maxExtent": 19}},
        "color": {"datum": "measured voltage", "type": "nominal", "scale": {"domain": ["measured voltage", "estimated voltage", "estimate via look−up table"], "range": ["#000000", "#ff0000", "#0000ff"]},
          "legend": {"title": null, "orient": "bottom-left", "offset": 5, "symbolType": "M-1,0H5", "symbolSize": 136, "symbolStrokeWidth": 1, "labelFontSize": 13, "labelFont": "Liberation Sans", "labelColor": "black", "labelOffset": 27, "padding": 5, "rowPadding": 3, "strokeColor": "black", "fillColor": "white", "labelLimit": 400}}}},
      {"data": {"name": "vEst"}, "mark": {"type": "line", "clip": true, "strokeWidth": 1},
       "encoding": {"x": {"field": "t", "type": "quantitative"}, "y": {"field": "v", "type": "quantitative"}, "color": {"datum": "estimated voltage", "type": "nominal"}}},
      {"data": {"name": "vLut"}, "mark": {"type": "line", "clip": true, "strokeWidth": 1},
       "encoding": {"x": {"field": "t", "type": "quantitative"}, "y": {"field": "v", "type": "quantitative"}, "color": {"datum": "estimate via look−up table", "type": "nominal"}}}
     ]}
   ],
   "spacing": 71, "bounds": "flush",
   "title": {"text": "(a) LiFePO, SM.", "orient": "bottom", "anchor": "middle", "font": "DejaVu Serif", "fontSize": 21, "fontWeight": "normal", "baseline": "top", "offset": 20},
   "resolve": {"scale": {"color": "independent"}, "legend": {"color": "independent"}}},
  {"vconcat": [
    {"width": 487, "height": 153,
     "title": {"text": ["Li Iron Phosphate: 47°C, 2nd cycle", "measured vs. estimated SOC"]},
     "layer": [
      {"data": {"name": "socTrue"}, "mark": {"type": "line", "clip": true, "strokeWidth": 1},
       "encoding": {
        "x": {"field": "t", "type": "quantitative", "scale": {"domain": [-5, 75], "nice": false, "zero": false}, "axis": {"values": [0,10,20,30,40,50,60,70], "title": null, "labelExpr": "'' + datum.value", "labelOverlap": false, "tickCount": 30}},
        "y": {"field": "v", "type": "quantitative", "scale": {"domain": [0, 50], "nice": false}, "axis": {"values": [0,10,20,30,40,50], "title": "SOC [%]", "labelExpr": "'' + datum.value", "labelOverlap": false, "tickCount": 30, "minExtent": 19, "maxExtent": 19}},
        "color": {"datum": "true", "type": "nominal", "scale": {"domain": ["true", "estimate"], "range": ["#000000", "#ff0000"]},
          "legend": {"title": null, "orient": "top-right", "offset": 5, "symbolType": "M-1,0H5", "symbolSize": 107, "symbolStrokeWidth": 1, "labelFontSize": 13, "labelFont": "Liberation Sans", "labelColor": "black", "labelOffset": 26, "padding": 5, "rowPadding": 3, "strokeColor": "black", "fillColor": "white"}}}},
      {"data": {"name": "socEst"}, "mark": {"type": "line", "clip": true, "strokeWidth": 1},
       "encoding": {"x": {"field": "t", "type": "quantitative"}, "y": {"field": "v", "type": "quantitative"}, "color": {"datum": "estimate", "type": "nominal"}}}
     ]},
    {"width": 487, "height": 154,
     "title": {"text": "measured vs. estimated output voltge"},
     "layer": [
      {"data": {"name": "vMeas"}, "mark": {"type": "line", "clip": true, "strokeWidth": 1},
       "encoding": {
        "x": {"field": "t", "type": "quantitative", "scale": {"domain": [-5, 75], "nice": false, "zero": false}, "axis": {"values": [0,10,20,30,40,50,60,70], "title": "time [min]", "labelExpr": "'' + datum.value", "labelOverlap": false, "tickCount": 30}},
        "y": {"field": "v", "type": "quantitative", "scale": {"domain": [2, 4], "nice": false, "zero": false}, "axis": {"values": [2,2.5,3,3.5,4], "title": "voltage [V]", "labelExpr": "'' + datum.value", "labelOverlap": false, "tickCount": 30, "minExtent": 19, "maxExtent": 19}},
        "color": {"datum": "measured voltage", "type": "nominal", "scale": {"domain": ["measured voltage", "estimated voltage", "estimate via look−up table"], "range": ["#000000", "#ff0000", "#0000ff"]}, "legend": null}}},
      {"data": {"name": "vEst"}, "mark": {"type": "line", "clip": true, "strokeWidth": 1},
       "encoding": {"x": {"field": "t", "type": "quantitative"}, "y": {"field": "v", "type": "quantitative"}, "color": {"datum": "estimated voltage", "type": "nominal"}}},
      {"data": {"name": "vLut"}, "mark": {"type": "line", "clip": true, "strokeWidth": 1},
       "encoding": {"x": {"field": "t", "type": "quantitative"}, "y": {"field": "v", "type": "quantitative"}, "color": {"datum": "estimate via look−up table", "type": "nominal"}}}
     ]}
   ],
   "spacing": 71, "bounds": "flush",
   "title": {"text": "(b) LiFePO, ZSHM.", "orient": "bottom", "anchor": "middle", "font": "DejaVu Serif", "fontSize": 21, "fontWeight": "normal", "baseline": "top", "offset": 20},
   "resolve": {"scale": {"color": "independent"}, "legend": {"color": "independent"}}}
  ],
  "spacing": 46,
  "resolve": {"scale": {"color": "independent"}, "legend": {"color": "independent"}}},
 {"hconcat": [
  {"vconcat": [
    {"width": 470, "height": 148,
     "title": {"text": ["Li Iron Phosphate: 47°C, 2nd cycle", "measured vs. estimated SOC"]},
     "layer": [
      {"data": {"name": "zSocTrue"}, "mark": {"type": "line", "clip": true, "strokeWidth": 1},
       "encoding": {
        "x": {"field": "t", "type": "quantitative", "scale": {"domain": [0, 3.5], "nice": false, "zero": false}, "axis": {"values": [0,0.5,1,1.5,2,2.5,3,3.5], "title": null, "labelExpr": "'' + datum.value", "labelFontSize": 12.5, "labelOverlap": false, "tickCount": 30}},
        "y": {"field": "v", "type": "quantitative", "scale": {"domain": [10, 35], "nice": false, "zero": false}, "axis": {"values": [10,15,20,25,30,35], "title": "SOC [%]", "labelExpr": "'' + datum.value", "labelFontSize": 12.5, "labelOverlap": false, "tickCount": 30, "minExtent": 17, "maxExtent": 17}},
        "color": {"datum": "true", "type": "nominal", "scale": {"domain": ["true", "estimate"], "range": ["#000000", "#ff0000"]},
          "legend": {"title": null, "orient": "bottom-right", "offset": 4, "symbolType": "M-1,0H5", "symbolSize": 87, "symbolStrokeWidth": 1, "labelFontSize": 12.5, "labelFont": "Liberation Sans", "labelColor": "black", "labelOffset": 24, "padding": 5, "rowPadding": 3, "strokeColor": "black", "fillColor": "white"}}}},
      {"data": {"name": "zSocEst"}, "mark": {"type": "line", "clip": true, "strokeWidth": 1},
       "encoding": {"x": {"field": "t", "type": "quantitative"}, "y": {"field": "v", "type": "quantitative"}, "color": {"datum": "estimate", "type": "nominal"}}}
     ]},
    {"width": 470, "height": 147,
     "title": {"text": "measured vs. estimated output voltge"},
     "layer": [
      {"data": {"name": "zVMeas"}, "mark": {"type": "line", "clip": true, "strokeWidth": 1},
       "encoding": {
        "x": {"field": "t", "type": "quantitative", "scale": {"domain": [0, 3.5], "nice": false, "zero": false}, "axis": {"values": [0,0.5,1,1.5,2,2.5,3,3.5], "title": "time [min]", "labelExpr": "'' + datum.value", "labelFontSize": 12.5, "labelOverlap": false, "tickCount": 30}},
        "y": {"field": "v", "type": "quantitative", "scale": {"domain": [2.8, 3.8], "nice": false, "zero": false}, "axis": {"values": [2.8,3,3.2,3.4,3.6,3.8], "title": "voltage [V]", "labelExpr": "'' + datum.value", "labelFontSize": 12.5, "labelOverlap": false, "tickCount": 30, "minExtent": 17, "maxExtent": 17}},
        "color": {"datum": "measured voltage", "type": "nominal", "scale": {"domain": ["measured voltage", "estimated voltage", "estimate via look−up table"], "range": ["#000000", "#ff0000", "#0000ff"]}, "legend": null}}},
      {"data": {"name": "zVEst"}, "mark": {"type": "line", "clip": true, "strokeWidth": 1},
       "encoding": {"x": {"field": "t", "type": "quantitative"}, "y": {"field": "v", "type": "quantitative"}, "color": {"datum": "estimated voltage", "type": "nominal"}}},
      {"data": {"name": "zVLut"}, "mark": {"type": "line", "clip": true, "strokeWidth": 1},
       "encoding": {"x": {"field": "t", "type": "quantitative"}, "y": {"field": "v", "type": "quantitative"}, "color": {"datum": "estimate via look−up table", "type": "nominal"}}}
     ]}
   ],
   "spacing": 70, "bounds": "flush",
   "title": {"text": "(c) SM, zoomed details", "orient": "bottom", "anchor": "middle", "font": "DejaVu Serif", "fontSize": 21, "fontWeight": "normal", "baseline": "top", "offset": 22},
   "resolve": {"scale": {"color": "independent"}, "legend": {"color": "independent"}}},
  {"vconcat": [
    {"width": 470, "height": 148,
     "title": {"text": ["Li Iron Phosphate: 47°C, 2nd cycle", "measured vs. estimated SOC"]},
     "layer": [
      {"data": {"name": "zSocTrue"}, "mark": {"type": "line", "clip": true, "strokeWidth": 1},
       "encoding": {
        "x": {"field": "t", "type": "quantitative", "scale": {"domain": [0, 3.5], "nice": false, "zero": false}, "axis": {"values": [0,0.5,1,1.5,2,2.5,3,3.5], "title": null, "labelExpr": "'' + datum.value", "labelFontSize": 12.5, "labelOverlap": false, "tickCount": 30}},
        "y": {"field": "v", "type": "quantitative", "scale": {"domain": [10, 35], "nice": false, "zero": false}, "axis": {"values": [10,15,20,25,30,35], "title": "SOC [%]", "labelExpr": "'' + datum.value", "labelFontSize": 12.5, "labelOverlap": false, "tickCount": 30, "minExtent": 17, "maxExtent": 17}},
        "color": {"datum": "true", "type": "nominal", "scale": {"domain": ["true", "estimate"], "range": ["#000000", "#ff0000"]},
          "legend": {"title": null, "orient": "bottom-right", "offset": 4, "symbolType": "M-1,0H5", "symbolSize": 87, "symbolStrokeWidth": 1, "labelFontSize": 12.5, "labelFont": "Liberation Sans", "labelColor": "black", "labelOffset": 24, "padding": 5, "rowPadding": 3, "strokeColor": "black", "fillColor": "white"}}}},
      {"data": {"name": "zSocEst"}, "mark": {"type": "line", "clip": true, "strokeWidth": 1},
       "encoding": {"x": {"field": "t", "type": "quantitative"}, "y": {"field": "v", "type": "quantitative"}, "color": {"datum": "estimate", "type": "nominal"}}}
     ]},
    {"width": 470, "height": 147,
     "title": {"text": "measured vs. estimated output voltge"},
     "layer": [
      {"data": {"name": "zVMeas"}, "mark": {"type": "line", "clip": true, "strokeWidth": 1},
       "encoding": {
        "x": {"field": "t", "type": "quantitative", "scale": {"domain": [0, 3.5], "nice": false, "zero": false}, "axis": {"values": [0,0.5,1,1.5,2,2.5,3,3.5], "title": "time [min]", "labelExpr": "'' + datum.value", "labelFontSize": 12.5, "labelOverlap": false, "tickCount": 30}},
        "y": {"field": "v", "type": "quantitative", "scale": {"domain": [2.8, 3.8], "nice": false, "zero": false}, "axis": {"values": [2.8,3,3.2,3.4,3.6,3.8], "title": "voltage [V]", "labelExpr": "'' + datum.value", "labelFontSize": 12.5, "labelOverlap": false, "tickCount": 30, "minExtent": 17, "maxExtent": 17}},
        "color": {"datum": "measured voltage", "type": "nominal", "scale": {"domain": ["measured voltage", "estimated voltage", "estimate via look−up table"], "range": ["#000000", "#ff0000", "#0000ff"]}, "legend": null}}},
      {"data": {"name": "zVEst"}, "mark": {"type": "line", "clip": true, "strokeWidth": 1},
       "encoding": {"x": {"field": "t", "type": "quantitative"}, "y": {"field": "v", "type": "quantitative"}, "color": {"datum": "estimated voltage", "type": "nominal"}}},
      {"data": {"name": "zVLut"}, "mark": {"type": "line", "clip": true, "strokeWidth": 1},
       "encoding": {"x": {"field": "t", "type": "quantitative"}, "y": {"field": "v", "type": "quantitative"}, "color": {"datum": "estimate via look−up table", "type": "nominal"}}}
     ]}
   ],
   "spacing": 70, "bounds": "flush",
   "title": {"text": "(d) ZSHM, zoomed details", "orient": "bottom", "anchor": "middle", "font": "DejaVu Serif", "fontSize": 21, "fontWeight": "normal", "baseline": "top", "offset": 22},
   "resolve": {"scale": {"color": "independent"}, "legend": {"color": "independent"}}}
  ],
  "spacing": 56,
  "resolve": {"scale": {"color": "independent"}, "legend": {"color": "independent"}}}
],
"spacing": 15,
"resolve": {"scale": {"color": "independent"}, "legend": {"color": "independent"}}
}
